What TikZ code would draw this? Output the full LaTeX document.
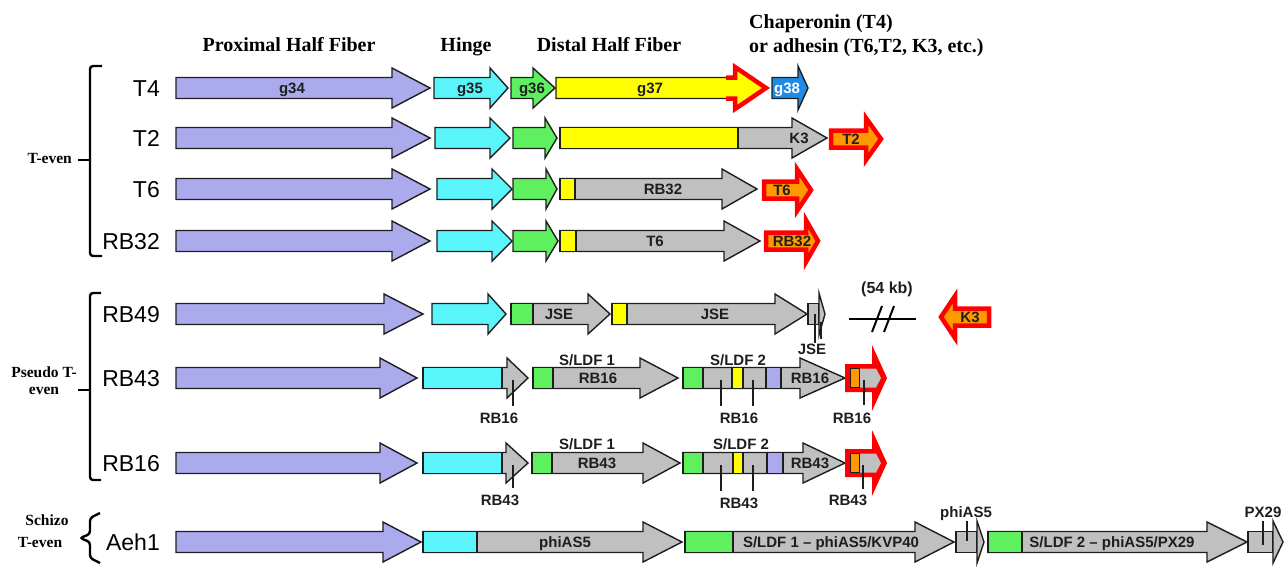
\documentclass[tikz,border=0pt]{standalone}
\usepackage{fontspec}
\setmainfont{Liberation Serif}
\newfontfamily\arialf{Liberation Sans}
\definecolor{lav}{RGB}{170,170,236}
\definecolor{cyn}{RGB}{90,245,250}
\definecolor{grn}{RGB}{95,240,95}
\definecolor{ylw}{RGB}{255,255,0}
\definecolor{gry}{RGB}{192,192,192}
\definecolor{org}{RGB}{255,153,0}
\definecolor{blu}{RGB}{30,140,230}
\definecolor{edge}{RGB}{30,30,30}
\tikzset{
 gene/.style={draw=edge, line width=1.4pt, line join=miter},
 redarr/.style={draw=red, line width=4.5pt, fill=org, line join=miter, miter limit=20},
 glab/.style={font=\arialf\bfseries\fontsize{15}{15}\selectfont, inner sep=0pt, text=edge, text height=10.7pt, text depth=0pt},
 strain/.style={font=\arialf\fontsize{23}{23}\selectfont, inner sep=0pt, anchor=east, text height=16.5pt, text depth=0pt},
 hdr/.style={font=\bfseries\fontsize{20}{22}\selectfont, inner sep=0pt, text height=13.2pt, text depth=0pt},
 grp/.style={font=\bfseries\fontsize{15.5}{17}\selectfont, inner sep=0pt, text height=10.3pt, text depth=0pt},
 brk/.style={line width=2.4pt, rounded corners=3pt},
 tick/.style={line width=1.4pt, draw=edge},
}
\newcommand\garrow[6]{\draw[gene,fill=#5] (#1,#4-10.5) -- (#2,#4-10.5) -- (#2,#4-#6) -- (#3,#4) -- (#2,#4+#6) -- (#2,#4+10.5) -- (#1,#4+10.5) -- cycle;}
\newcommand\gbox[4]{\draw[gene,fill=#4] (#1,#3-10.5) rectangle (#2,#3+10.5);}
\newcommand\rarrow[4]{\draw[redarr] (#1,#4-8.5) -- (#2,#4-8.5) -- (#2,#4-21) -- (#3,#4) -- (#2,#4+21) -- (#2,#4+8.5) -- (#1,#4+8.5) -- cycle;}
\newcommand\rbig[1]{%
 \fill[red] (845,#1-14) -- (872,#1-14) -- (872,#1-33) -- (887,#1) -- (872,#1+33) -- (872,#1+14) -- (845,#1+14) -- cycle;
 \fill[gry] (859,#1-9.5) -- (876,#1-9.5) -- (881,#1) -- (876,#1+9.5) -- (859,#1+9.5) -- cycle;
 \draw[line width=1pt, draw=edge, fill=org] (850,#1-9.5) rectangle (859,#1+9.5);}
\newcommand\thinhead[4]{% box x1, box x2, tip, y
 \gbox{#1}{#2}{#4}{gry}
 \draw[gene,fill=gry] (#2,#4-21) -- (#3,#4) -- (#2,#4+21) -- cycle;}
\begin{document}
\begin{tikzpicture}[x=1pt,y=-1pt]
\useasboundingbox (0,0) rectangle (1287,568);
% headers
\node[hdr] (hprox) at (289,45) {Proximal Half Fiber};
\node[hdr] (hhinge) at (466,45) {Hinge};
\node[hdr] (hdist) at (609,45) {Distal Half Fiber};
\node[hdr, anchor=west] (hchap) at (749,22) {Chaperonin (T4)};
\node[hdr, anchor=west] (hadh) at (749,46) {or adhesin (T6,T2, K3, etc.)};
% group brackets
\draw[brk] (102,66) -- (90,66) -- (90,256) -- (102,256);
\draw[brk] (90,160) -- (78,160);
\node[grp, anchor=east] (gteven) at (72,158) {T-even};
\draw[brk] (101,293) -- (90,293) -- (90,480) -- (101,480);
\draw[brk] (90,390) -- (78,390);
\node[grp] (gpseudo1) at (44,372) {Pseudo T-};
\node[grp] (gpseudo2) at (44,389) {even};
\draw[brk] (100,513) -- (90,518) -- (90,534) -- (80,538) -- (90,542) -- (90,558) -- (100,563);
\node[grp] (gschizo1) at (47,520) {Schizo};
\node[grp] (gschizo2) at (40,542) {T-even};
% strain labels
\node[strain] (sT4) at (160,88) {T4};
\node[strain] (sT2) at (160,138) {T2};
\node[strain] (sT6) at (160,189) {T6};
\node[strain] (sRB32) at (160,241) {RB32};
\node[strain] (sRB49) at (160,314) {RB49};
\node[strain] (sRB43) at (160,378) {RB43};
\node[strain] (sRB16) at (160,463) {RB16};
\node[strain] (sAeh1) at (160,542) {Aeh1};
% ---- T4
\garrow{176}{392}{430}{88}{lav}{20}
\node[glab] (g34) at (292,88) {g34};
\garrow{434}{490}{508}{88}{cyn}{20}
\node[glab] (g35) at (470,88) {g35};
\garrow{511}{533}{555}{88}{grn}{20}
\node[glab] (g36) at (532,88) {g36};
\garrow{556}{735}{767}{88}{ylw}{20}
\draw[draw=red, line width=4.5pt, line join=miter] (726,77.5) -- (735,77.5) -- (735,67) -- (766,88) -- (735,109) -- (735,98.5) -- (726,98.5);
\node[glab] (g37) at (650,88) {g37};
\garrow{772}{798}{808}{88}{blu}{22}
\node[glab, text=white] (g38) at (787,88) {g38};
% ---- T2
\garrow{176}{392}{430}{138}{lav}{20}
\garrow{435}{490}{510}{138}{cyn}{20}
\garrow{513}{545}{557}{138}{grn}{20}
\garrow{560}{792}{827}{138}{gry}{20}
\gbox{560}{738}{138}{ylw}
\node[glab] (k3a) at (799,138) {K3};
\rarrow{831}{866}{881}{139}
\node[glab] (t2a) at (851,139) {T2};
% ---- T6
\garrow{176}{392}{430}{189}{lav}{20}
\garrow{437}{492}{512}{189}{cyn}{20}
\garrow{513}{546}{557}{189}{grn}{20}
\garrow{560}{722}{757}{189}{gry}{20}
\gbox{560}{575}{189}{ylw}
\node[glab] (rb32a) at (663,189) {RB32};
\rarrow{764}{797}{811}{190}
\node[glab] (t6a) at (782,190) {T6};
% ---- RB32
\garrow{176}{392}{430}{241}{lav}{20}
\garrow{437}{492}{512}{241}{cyn}{20}
\garrow{513}{546}{558}{241}{grn}{20}
\garrow{560}{724}{760}{241}{gry}{20}
\gbox{560}{576}{241}{ylw}
\node[glab] (t6b) at (655,241) {T6};
\rarrow{766}{806}{818}{241}
\node[glab] (rb32b) at (792,241) {RB32};
% ---- RB49
\garrow{176}{384}{423}{314}{lav}{20}
\garrow{432}{488}{506}{314}{cyn}{20}
\garrow{511}{588}{610}{314}{gry}{20}
\gbox{511}{533}{314}{grn}
\node[glab] (jse1) at (559,314) {JSE};
\garrow{612}{775}{807}{314}{gry}{20}
\gbox{612}{627}{314}{ylw}
\node[glab] (jse2) at (715,314) {JSE};
\thinhead{808}{819}{825}{314}
\node[glab] (jse3) at (812,349) {JSE};
\draw[tick] (815,314) -- (jse3.north -| 815,0);
\draw[tick] (821,322) -- (821,339);
\node[glab, font=\arialf\bfseries\fontsize{16}{16}\selectfont] (kb) at (887,288) {(54 kb)};
\coordinate (bl) at (849,319);
\coordinate (br) at (916,319);
\draw[line width=2pt] (bl) -- (br);
\draw[line width=2pt] (872,332) -- (882,306);
\draw[line width=2pt] (884,332) -- (894,306);
\draw[redarr] (989,317-8.5) -- (955,317-8.5) -- (955,317-21) -- (941,317) -- (955,317+21) -- (955,317+8.5) -- (989,317+8.5) -- cycle;
\node[glab] (k3b) at (970,317) {K3};
% ---- RB43
\garrow{176}{380}{417}{378}{lav}{20}
\garrow{423}{507}{528}{378}{gry}{20}
\gbox{423}{502}{378}{cyn}
\node[glab] (l43a) at (499,418) {RB16};
\draw[tick] (513,380) -- (513,406);
\node[glab] (sl1a) at (587,360) {S/LDF 1};
\garrow{533}{640}{678}{378}{gry}{20}
\gbox{533}{553}{378}{grn}
\node[glab] (in43a) at (598,378) {RB16};
\node[glab] (sl2a) at (738,360) {S/LDF 2};
\garrow{683}{800}{845}{378}{gry}{20}
\gbox{683}{703}{378}{grn}
\gbox{732}{743}{378}{ylw}
\gbox{766}{781}{378}{lav}
\node[glab] (in43b) at (810,378) {RB16};
\node[glab] (l43b) at (739,418) {RB16};
\draw[tick] (721,380) -- (721,406);
\draw[tick] (753,380) -- (753,406);
\rbig{378}
\node[glab] (l43c) at (852,418) {RB16};
\draw[tick] (864,380) -- (864,405);
% ---- RB16
\garrow{176}{380}{417}{463}{lav}{20}
\garrow{423}{506}{528}{463}{gry}{20}
\gbox{423}{502}{463}{cyn}
\node[glab] (l16a) at (500,500) {RB43};
\draw[tick] (513,465) -- (513,488);
\node[glab] (sl1b) at (587,444) {S/LDF 1};
\garrow{532}{643}{680}{463}{gry}{20}
\gbox{532}{552}{463}{grn}
\node[glab] (in16a) at (597,463) {RB43};
\node[glab] (sl2b) at (741,444) {S/LDF 2};
\garrow{683}{803}{845}{463}{gry}{20}
\gbox{683}{703}{463}{grn}
\gbox{733}{743}{463}{ylw}
\gbox{767}{783}{463}{lav}
\node[glab] (in16b) at (810,463) {RB43};
\node[glab] (l16b) at (739,503) {RB43};
\draw[tick] (721,465) -- (721,491);
\draw[tick] (753,465) -- (753,491);
\rbig{463}
\node[glab] (l16c) at (848,500) {RB43};
\draw[tick] (863,465) -- (863,489);
% ---- Aeh1
\garrow{176}{383}{421}{542}{lav}{20}
\garrow{423}{643}{682}{542}{gry}{20}
\gbox{423}{477}{542}{cyn}
\node[glab] (phi1) at (565,542) {phiAS5};
\garrow{685}{915}{954}{542}{gry}{20}
\gbox{685}{733}{542}{grn}
\node[glab] (sl1c) at (831,542) {S/LDF 1 – phiAS5/KVP40};
\thinhead{956}{977}{984}{542}
\node[glab] (phi2) at (966,512) {phiAS5};
\draw[tick] (967,521) -- (967,541);
\garrow{988}{1207}{1247}{542}{gry}{20}
\gbox{988}{1022}{542}{grn}
\node[glab] (sl2c) at (1112,542) {S/LDF 2 – phiAS5/PX29};
\thinhead{1248}{1273}{1283}{542}
\node[glab] (px29) at (1263,512) {PX29};
\draw[tick] (1263,521) -- (1263,545);
\end{tikzpicture}
\end{document}
